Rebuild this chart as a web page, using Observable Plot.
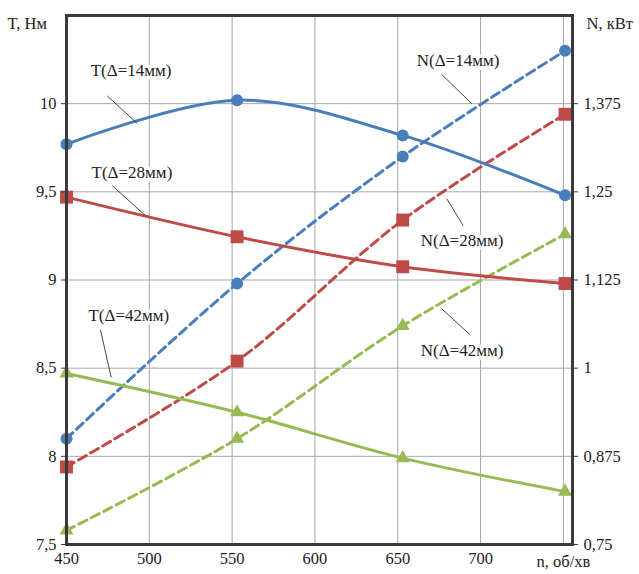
<!DOCTYPE html>
<html>
<head>
<meta charset="utf-8">
<script src="https://cdn.jsdelivr.net/npm/d3@7"></script>
<script src="https://cdn.jsdelivr.net/npm/@observablehq/plot@0.6"></script>
<style>
  html, body { margin: 0; padding: 0; background: #fff; }
</style>
</head>
<body>
<div id="chart"></div>
<script>
// Shaft speed, rpm
const speed = [450, 553, 653, 751];

// Torque T, N·m (left axis) for three gap values
const torque14 = [9.77, 10.02, 9.82, 9.48];
const torque28 = [9.47, 9.245, 9.075, 8.98];
const torque42 = [8.47, 8.25, 7.99, 7.80];

// Power N, kW (right axis) for three gap values
const power14 = [0.90, 1.12, 1.30, 1.45];
const power28 = [0.86, 1.01, 1.21, 1.36];
const power42 = [0.77, 0.90, 1.06, 1.19];

// Axis ticks
const speedTicks = [450, 500, 550, 600, 650, 700];
const speedGrid = [450, 500, 550, 600, 650, 700, 750];
const torqueTicks = [7.5, 8, 8.5, 9, 9.5, 10];
const powerTicks = [0.75, 0.875, 1, 1.125, 1.25, 1.375];

// Series labels with leader lines: [text, label x, label y, leader from x, y, to x, y]
const seriesLabels = [
  ["T(Δ=14мм)", 489, 10.19, 474.5, 10.045, 492.7, 9.888],
  ["T(Δ=28мм)", 489.5, 9.61, 477.6, 9.535, 497.7, 9.365],
  ["T(Δ=42мм)", 487.6, 8.80, 470.5, 8.717, 477, 8.447],
  ["N(Δ=14мм)", 686.4, 10.244, 676.6, 10.165, 694.7, 10.0],
  ["N(Δ=28мм)", 688.8, 9.222, 679.6, 9.461, 689.5, 9.308],
  ["N(Δ=42мм)", 688.8, 8.598, 676.6, 8.836, 693.7, 8.689]
];

const BLUE = "#4a7ebb", RED = "#be4b48", GREEN = "#98b954";
const SERIF = "Liberation Serif";

// Right axis shares the frame: 0.75..1.5 kW maps onto 7.5..10.5 N·m
const pToT = p => 7.5 + (p - 0.75) * 4;
const tToP = t => 0.75 + (t - 7.5) / 4;

const uk = d3.formatLocale({decimal: ",", thousands: " ", grouping: [3], currency: ["", ""]});
const fmt = v => uk.format("~g")(+v.toFixed(4));

const rows = (ys, toY = v => v) => speed.map((x, i) => ({x, y: toY(ys[i])}));

const T14 = rows(torque14), T28 = rows(torque28), T42 = rows(torque42);
const N14 = rows(power14, pToT), N28 = rows(power28, pToT), N42 = rows(power42, pToT);

const solid = {x: "x", y: "y", strokeWidth: 3, curve: "catmull-rom"};
const dashed = {...solid, strokeDasharray: "9,5"};
const font = {fontFamily: SERIF, fontSize: 16.5};

const chart = Plot.plot({
  width: 639,
  height: 574,
  marginLeft: 66,
  marginRight: 67,
  marginTop: 15,
  marginBottom: 30,
  style: {background: "#fff", color: "#222"},
  x: {domain: [450, 755.5]},
  y: {domain: [7.5, 10.5]},
  marks: [
    Plot.gridX(speedGrid, {stroke: "#a6a6a6", strokeOpacity: 1, strokeWidth: 1}),
    Plot.gridY(torqueTicks, {stroke: "#a6a6a6", strokeOpacity: 1, strokeWidth: 1}),

    Plot.line(N14, {...dashed, stroke: BLUE}),
    Plot.line(N28, {...dashed, stroke: RED}),
    Plot.line(N42, {...dashed, stroke: GREEN}),
    Plot.line(T14, {...solid, stroke: BLUE}),
    Plot.line(T28, {...solid, stroke: RED}),
    Plot.line(T42, {...solid, stroke: GREEN}),

    Plot.dot([...T14, ...N14], {x: "x", y: "y", r: 6, symbol: "circle", fill: BLUE}),
    Plot.dot([...T28, ...N28], {x: "x", y: "y", r: 7.3, symbol: "square", fill: RED}),
    Plot.dot([...T42, ...N42], {x: "x", y: "y", r: 5.2, symbol: "triangle", fill: GREEN}),

    Plot.frame({stroke: "#3a3a3a", strokeWidth: 3}),

    Plot.axisY(torqueTicks, {anchor: "left", tickSize: 5, tickPadding: 5, tickFormat: fmt, label: null, stroke: "#3a3a3a", ...font}),
    Plot.axisY(powerTicks.map(pToT), {anchor: "right", tickSize: 5, tickPadding: 6, tickFormat: t => fmt(tToP(t)), label: null, stroke: "#3a3a3a", ...font}),
    Plot.axisX(speedTicks, {tickSize: 0, tickPadding: 8, tickFormat: d => String(d), label: null, ...font}),

    Plot.text(["T, Нм"], {frameAnchor: "top-left", dx: -59, dy: 2, textAnchor: "start", text: d => d, ...font}),
    Plot.text(["N, кВт"], {frameAnchor: "top-right", dx: 14, dy: 2, textAnchor: "start", text: d => d, ...font}),
    Plot.text([750], {x: d => d, frameAnchor: "bottom", dy: 22, text: () => "n, об/хв", ...font}),

    Plot.link(seriesLabels, {x1: d => d[3], y1: d => d[4], x2: d => d[5], y2: d => d[6], stroke: "#333", strokeWidth: 0.9}),
    Plot.text(seriesLabels, {x: d => d[1], y: d => d[2], text: d => d[0], fill: "#222", stroke: "white", strokeWidth: 7, fontFamily: SERIF, fontSize: 17})
  ]
});

chart.setAttribute("font-family", SERIF);
chart.setAttribute("font-size", "16");
document.getElementById("chart").append(chart);
</script>
</body>
</html>
